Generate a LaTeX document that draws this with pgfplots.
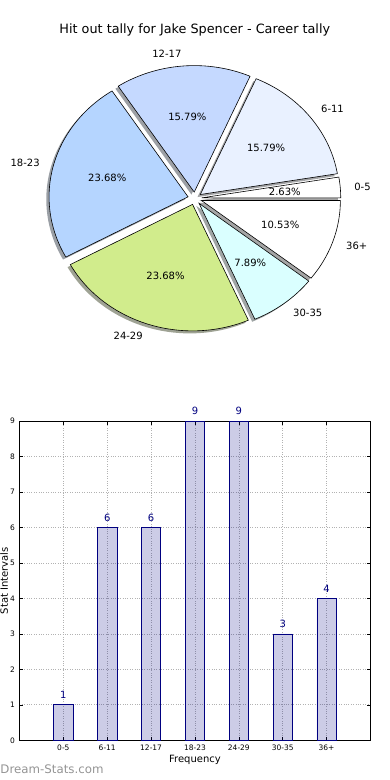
\documentclass[border=0pt]{standalone}
\usepackage{pgfplots}
\pgfplotsset{compat=1.18}
\usepackage{fontspec}
\setmainfont{DejaVu Sans}

\definecolor{navy}{rgb}{0,0,0.5}
\definecolor{slice0}{HTML}{FFFFFF}
\definecolor{slice1}{HTML}{E9F1FF}
\definecolor{slice2}{HTML}{C5D9FF}
\definecolor{slice3}{HTML}{B5D5FF}
\definecolor{slice4}{HTML}{D1EC8C}
\definecolor{slice5}{HTML}{DAFFFF}
\definecolor{slice6}{HTML}{FFFFFF}

% data: value / label
\def\piedata{1/0-5, 6/6-11, 6/12-17, 9/18-23, 9/24-29, 3/30-35, 4/36+}

\xdef\total{0}
\foreach \v/\l in \piedata {\pgfmathsetmacro\t{\total+\v}\xdef\total{\t}}
\xdef\cum{0}
\foreach \v/\l [count=\i from 0] in \piedata {%
  \pgfmathsetmacro\s{\cum}%
  \pgfmathsetmacro\e{\cum+360*\v/\total}%
  \pgfmathsetmacro\m{(\s+\e)/2}%
  \pgfmathsetmacro\p{100*\v/\total}%
  \pgfmathsetmacro\ex{0.05*cos(\m)}%
  \pgfmathsetmacro\ey{0.05*sin(\m)}%
  \pgfmathsetmacro\lx{1.15*cos(\m)}%
  \pgfmathsetmacro\ly{1.15*sin(\m)}%
  \pgfmathsetmacro\qx{0.65*cos(\m)}%
  \pgfmathsetmacro\qy{0.65*sin(\m)}%
  \pgfmathtruncatemacro\side{cos(\m)>0}%
  \expandafter\xdef\csname pS\i\endcsname{\s}%
  \expandafter\xdef\csname pE\i\endcsname{\e}%
  \expandafter\xdef\csname pP\i\endcsname{\p}%
  \expandafter\xdef\csname pX\i\endcsname{\ex}%
  \expandafter\xdef\csname pY\i\endcsname{\ey}%
  \expandafter\xdef\csname pLX\i\endcsname{\lx}%
  \expandafter\xdef\csname pLY\i\endcsname{\ly}%
  \expandafter\xdef\csname pQX\i\endcsname{\qx}%
  \expandafter\xdef\csname pQY\i\endcsname{\qy}%
  \expandafter\xdef\csname pL\i\endcsname{\l}%
  \ifnum\side=1 \expandafter\xdef\csname pA\i\endcsname{west}%
  \else \expandafter\xdef\csname pA\i\endcsname{east}\fi
  \xdef\cum{\e}%
}

\begin{document}
\begin{tikzpicture}
\useasboundingbox (0,0) rectangle (390pt,780pt);

\node[font=\fontsize{12.8}{15}\selectfont] at (194.8pt,750.5pt) {Hit out tally for Jake Spencer - Career tally};

\begin{axis}[at={(194.8pt,581.6pt)}, anchor=center, scale only axis,
  width=389.2pt, height=354.2pt, xmin=-1.4, xmax=1.4, ymin=-1.4, ymax=1.4,
  hide axis, clip=false]
% shadows
\pgfplotsinvokeforeach{0,...,6}{
  \addplot[draw=none, fill=slice#1!30!black, fill opacity=0.5,
    domain=\csname pS#1\endcsname:\csname pE#1\endcsname, samples=60]
    ({\csname pX#1\endcsname-0.02+cos(x)}, {\csname pY#1\endcsname-0.02+sin(x)})
    -- (axis cs:\csname pX#1\endcsname-0.02,\csname pY#1\endcsname-0.02) -- cycle;
}
% wedges
\pgfplotsinvokeforeach{0,...,6}{
  \addplot[draw=black, line width=0.6pt, fill=slice#1,
    domain=\csname pS#1\endcsname:\csname pE#1\endcsname, samples=60]
    ({\csname pX#1\endcsname+cos(x)}, {\csname pY#1\endcsname+sin(x)})
    -- (axis cs:\csname pX#1\endcsname,\csname pY#1\endcsname) -- cycle;
}
\pgfplotsinvokeforeach{0,...,6}{
  \node[anchor=\csname pA#1\endcsname, inner sep=0pt, font=\fontsize{10}{12}\selectfont]
    at (axis cs:\csname pLX#1\endcsname,\csname pLY#1\endcsname) {\csname pL#1\endcsname};
  \node[inner sep=0pt, font=\fontsize{10}{12}\selectfont]
    at (axis cs:\csname pQX#1\endcsname,\csname pQY#1\endcsname)
    {\pgfmathprintnumber[fixed,precision=2,fixed zerofill,assume math mode=true]{\csname pP#1\endcsname}\%};
}
\end{axis}

\begin{axis}[at={(19.5pt,39.7pt)}, anchor=south west, scale only axis,
  width=351pt, height=319.3pt,
  xmin=-1, xmax=7, ymin=0, ymax=9,
  xtick={0,...,6}, xticklabels={0-5,6-11,12-17,18-23,24-29,30-35,36+},
  ytick={0,...,9},
  /pgf/number format/assume math mode=true,
  grid=major, grid style={dotted, black!30, line width=0.7pt},
  tick align=inside, xtick pos=both, ytick pos=both,
  major tick length=3.5pt, tick style={black, line width=0.5pt},
  axis line style={line width=0.8pt},
  ticklabel style={font=\fontsize{7.5}{9}\selectfont},
  yticklabel style={xshift=-1pt},
  xticklabel style={yshift=-1pt},
  xlabel={Frequency}, ylabel={Stat Intervals},
  label style={font=\fontsize{10}{12}\selectfont},
  every axis x label/.style={at={(axis description cs:0.5,-0.0626)}, anchor=center},
  every axis y label/.style={at={(axis description cs:-0.044,0.5)}, rotate=90, anchor=center},
  clip=false]
\addplot[ybar, bar width=0.44, draw=navy, line width=0.7pt, fill=navy, fill opacity=0.2,
  nodes near coords,
  nodes near coords style={text=navy, text opacity=1, font=\fontsize{10}{12}\selectfont, anchor=south, yshift=2.5pt},
  /pgf/number format/assume math mode=true]
  coordinates {(0,1) (1,6) (2,6) (3,9) (4,9) (5,3) (6,4)};
\end{axis}

\node[anchor=west, inner sep=0pt, text=black!42, font=\fontsize{11.8}{13}\selectfont] at (0.3pt,11pt) {Dream-Stats.com};
\end{tikzpicture}
\end{document}
